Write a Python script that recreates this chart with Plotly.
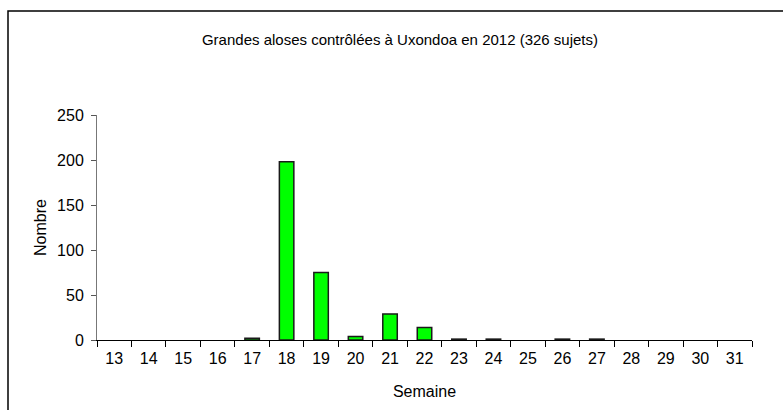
import plotly.graph_objects as go

semaines = [str(w) for w in range(13, 32)]
nombre = [0, 0, 0, 0, 2, 198, 75, 4, 29, 14, 1, 1, 0, 1, 1, 0, 0, 0, 0]
titre = "Grandes aloses contrôlées à Uxondoa en 2012 (326 sujets)"

W, H = 783, 410
L, R, T, B = 97, 31, 115, 70
pw, ph = W - L - R, H - T - B

def px2x(px):
    return (px - L) / pw

def py2y(py):
    return (H - B - py) / ph

line_widths = [1.5 if v > 0 else 0 for v in nombre]

fig = go.Figure()
fig.add_trace(go.Bar(
    x=semaines, y=nombre,
    marker=dict(color="#00FF00", line=dict(color="#1a1a1a", width=line_widths)),
    width=0.42,
))

fig.update_layout(
    width=W, height=H,
    margin=dict(l=L, r=R, t=T, b=B),
    paper_bgcolor="white", plot_bgcolor="white",
    font=dict(family="Liberation Sans, Arial, sans-serif", size=16, color="#000000"),
    showlegend=False,
    title=dict(text=titre, x=400 / W, xanchor="center",
               y=1 - 40 / H, yanchor="middle", font=dict(size=15)),
    xaxis=dict(
        type="category", tickson="boundaries", ticks="outside", ticklen=6,
        tickcolor="#000000", showline=True, linecolor="#000000", linewidth=1,
        showgrid=False, zeroline=False, ticklabelstandoff=4,
        title=dict(text="Semaine", standoff=19, font=dict(size=16)),
        tickfont=dict(size=16),
    ),
    yaxis=dict(
        range=[0, 250], tickvals=[0, 50, 100, 150, 200, 250],
        ticks="outside", ticklen=5, tickcolor="#555555",
        showline=True, linecolor="#777777", linewidth=1,
        showgrid=False, zeroline=False, ticklabelstandoff=4,
        title=dict(text="Nombre", standoff=6, font=dict(size=16)),
        tickfont=dict(size=16),
    ),
    shapes=[dict(
        type="rect", xref="paper", yref="paper",
        x0=px2x(8), x1=px2x(800), y0=py2y(420), y1=py2y(11),
        line=dict(color="#000000", width=1.5), fillcolor="rgba(0,0,0,0)",
        layer="below",
    )],
)

fig.write_html("out.html", config={"displayModeBar": False},
               post_script="document.body.style.margin='0';document.body.style.overflow='hidden';")
